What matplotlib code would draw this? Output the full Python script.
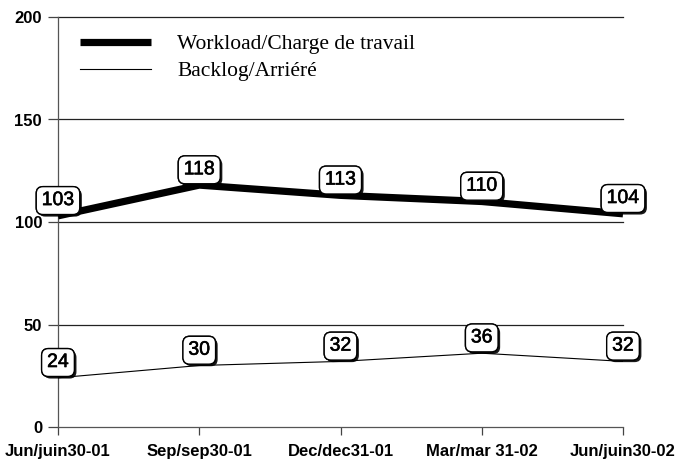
import matplotlib
matplotlib.use("Agg")
import matplotlib.pyplot as plt
import matplotlib.patheffects as pe

categories = ["Jun/juin30-01", "Sep/sep30-01", "Dec/dec31-01", "Mar/mar 31-02", "Jun/juin30-02"]
workload = [103, 118, 113, 110, 104]
backlog = [24, 30, 32, 36, 32]
yticks = [0, 50, 100, 150, 200]

fig = plt.figure(figsize=(6.75, 4.65), dpi=100)
ax = fig.add_axes([58/675, 1-427/465, (623-58)/675, (427-17)/465])
x = list(range(len(categories)))

for yv in yticks[1:]:
    ax.axhline(yv, color="#222222", lw=0.9, zorder=1, clip_on=False)

ax.plot(x, workload, color="black", lw=5.2, solid_capstyle="butt", zorder=3,
        label="Workload/Charge de travail")
ax.plot(x, backlog, color="black", lw=0.8, zorder=3, label="Backlog/Arriéré")

def label(xv, yv):
    t = ax.annotate(str(yv), (xv, yv), xytext=(0, 11), textcoords="offset points",
                    ha="center", va="center", fontsize=14, family="Liberation Sans",
                    zorder=5,
                    bbox=dict(boxstyle="round,pad=0.28,rounding_size=0.35", fc="white",
                              ec="black", lw=1.0))
    t.set_path_effects([pe.withStroke(linewidth=0.4, foreground="black")])
    t.get_bbox_patch().set_path_effects([
        pe.withSimplePatchShadow(offset=(1.5, -1.5), shadow_rgbFace="black", alpha=0.9),
        pe.Normal()])

for xv, yv in zip(x, workload):
    label(xv, yv)
for xv, yv in zip(x, backlog):
    label(xv, yv)

ax.set_xlim(0, 4)
ax.set_ylim(0, 200)
ax.set_xticks(x)
ax.set_xticklabels(categories)
ax.set_yticks(yticks)
for lab in ax.get_xticklabels() + ax.get_yticklabels():
    lab.set_fontfamily("Liberation Sans")
    lab.set_fontweight("bold")
    lab.set_fontsize(12)
ax.tick_params(axis="y", direction="out", length=7.5, width=0.9, color="#444444", pad=4)
ax.tick_params(axis="x", direction="out", length=6, width=0.9, color="#444444", pad=6)

ax.spines["top"].set_visible(False)
ax.spines["right"].set_visible(False)
ax.spines["left"].set_color("#555555")
ax.spines["bottom"].set_color("#555555")
ax.spines["left"].set_linewidth(0.9)
ax.spines["bottom"].set_linewidth(0.9)

leg = ax.legend(loc="upper left", bbox_to_anchor=(0.013, 0.995), frameon=False,
                prop={"family": "Liberation Serif", "size": 15.5},
                handlelength=3.3, handletextpad=1.2, labelspacing=0.33, borderpad=0.2)

fig.savefig("out.png", dpi=100)
